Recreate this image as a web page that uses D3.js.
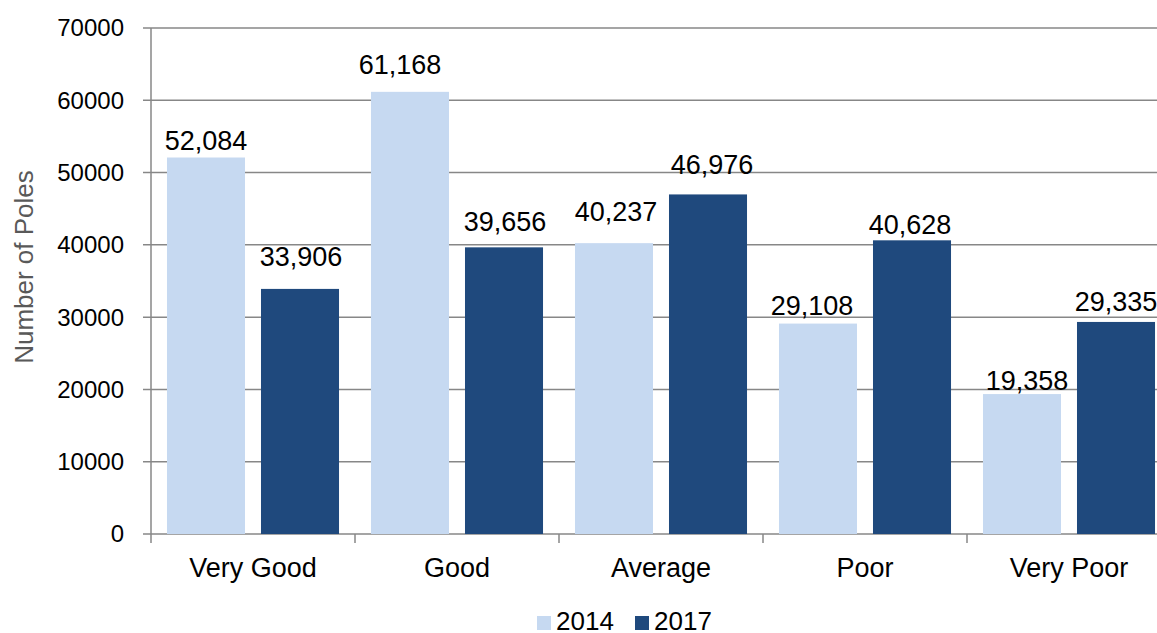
<!DOCTYPE html>
<html>
<head>
<meta charset="utf-8">
<script src="https://cdn.jsdelivr.net/npm/d3@7"></script>
<style>
  html, body { margin: 0; padding: 0; background: #fff; }
  svg { display: block; font-family: "Liberation Sans", Arial, sans-serif; }
</style>
</head>
<body>
<svg id="chart" width="1157" height="633"></svg>
<script>
const categories = ["Very Good", "Good", "Average", "Poor", "Very Poor"];
const seriesNames = ["2014", "2017"];
const values2014 = [52084, 61168, 40237, 29108, 19358];
const values2017 = [33906, 39656, 46976, 40628, 29335];
const yTicks = [0, 10000, 20000, 30000, 40000, 50000, 60000, 70000];
const colors = ["#c6d9f1", "#1f497d"];

// label placement (layout only): gap above bar and horizontal nudge, per series
const labelGap = [[8, 18, 22, 9, 4], [23, 16, 20, 6, 11]];
const labelDx = [[0, -10, 2, -6, 5], [1, 1, 4, -2, 0]];

(function () {
const svg = d3.select("#chart");
const W = 1157;
const pLeft = 151, pRight = 1171, pTop = 28, pBottom = 534;

const x0 = d3.scaleBand().domain(categories).range([pLeft, pRight]).padding(0);
const x1 = d3.scaleBand().domain(seriesNames).range([0, x0.bandwidth()]).paddingInner(0.17).paddingOuter(0.17);
const y = d3.scaleLinear().domain([0, 70000]).range([pBottom, pTop]);

const gridColor = "#878787";

// gridlines
svg.append("g").selectAll("line").data(yTicks).join("line")
  .attr("x1", pLeft - 8).attr("x2", W)
  .attr("y1", d => y(d)).attr("y2", d => y(d))
  .attr("stroke", gridColor).attr("stroke-width", 1.5);

// y tick labels
svg.append("g").selectAll("text").data(yTicks).join("text")
  .attr("x", 124).attr("y", d => y(d))
  .attr("dy", "0.35em")
  .attr("text-anchor", "end")
  .attr("font-size", 24)
  .attr("fill", "#000")
  .text(d => d);

// y axis line
svg.append("line").attr("x1", pLeft).attr("x2", pLeft)
  .attr("y1", pTop).attr("y2", pBottom)
  .attr("stroke", gridColor).attr("stroke-width", 1.5);

// category ticks
const bounds = categories.map(c => x0(c));
svg.append("g").selectAll("line").data(bounds).join("line")
  .attr("x1", d => d).attr("x2", d => d)
  .attr("y1", pBottom).attr("y2", pBottom + 9)
  .attr("stroke", gridColor).attr("stroke-width", 1.5);

// bars
const data = categories.map((c, i) => ({cat: c, i, vals: [values2014[i], values2017[i]]}));
const groups = svg.append("g").selectAll("g").data(data).join("g")
  .attr("transform", d => `translate(${x0(d.cat)},0)`);

const items = d => d.vals.map((v, j) => ({s: seriesNames[j], v, j, i: d.i}));

groups.selectAll("rect").data(items).join("rect")
  .attr("x", d => x1(d.s))
  .attr("width", x1.bandwidth())
  .attr("y", d => y(d.v))
  .attr("height", d => y(0) - y(d.v))
  .attr("fill", d => colors[d.j]);

groups.selectAll("text").data(items).join("text")
  .attr("x", d => x1(d.s) + x1.bandwidth() / 2 + labelDx[d.j][d.i])
  .attr("y", d => y(d.v) - labelGap[d.j][d.i])
  .attr("text-anchor", "middle")
  .attr("font-size", 27)
  .attr("fill", "#000")
  .text(d => d3.format(",")(d.v));

// category labels
svg.append("g").selectAll("text").data(categories).join("text")
  .attr("x", d => x0(d) + x0.bandwidth() / 2)
  .attr("y", 577)
  .attr("text-anchor", "middle")
  .attr("font-size", 27)
  .attr("fill", "#000")
  .text(d => d);

// y axis title
svg.append("text")
  .attr("transform", "translate(33,267) rotate(-90)")
  .attr("text-anchor", "middle")
  .attr("font-size", 26)
  .attr("fill", "#595959")
  .text("Number of Poles");

// legend
const legendItems = [{name: seriesNames[0], x: 537, c: colors[0]}, {name: seriesNames[1], x: 635, c: colors[1]}];
const lg = svg.append("g").selectAll("g").data(legendItems).join("g");
lg.append("rect").attr("x", d => d.x).attr("y", 616).attr("width", 14).attr("height", 14).attr("fill", d => d.c);
lg.append("text").attr("x", d => d.x + 19).attr("y", 629.5)
  .attr("font-size", 26).attr("fill", "#000").text(d => d.name);
})();
</script>
</body>
</html>
